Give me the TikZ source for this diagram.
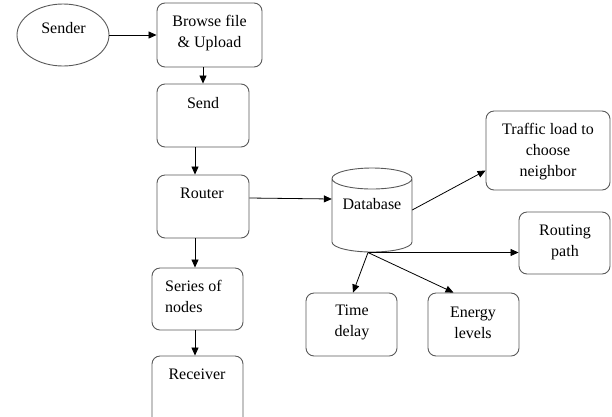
\documentclass[tikz,border=0pt]{standalone}
\usepackage{fontspec}
\setmainfont{Liberation Serif}
\usetikzlibrary{arrows.meta,shapes.geometric}
\begin{document}
\begin{tikzpicture}[x=1pt,y=-1pt,
  box/.style={draw=black!65, line width=0.9pt, rounded corners=8pt, inner sep=0pt},
  txt/.style={font=\fontsize{16}{21}\selectfont, inner sep=0pt, align=center},
  arr/.style={-{Triangle[length=8pt,width=7pt]}, line width=0.8pt, black}]
\useasboundingbox (0,0) rectangle (612,416);
\begin{scope}
\clip (0,0) rectangle (612,416);
% Sender
\node[draw=black!65, line width=0.9pt, ellipse, minimum width=92, minimum height=62, inner sep=0pt] (sender) at (63,35) {};
\node[txt] (tsender) at (63.5,28) {Sender};
% boxes
\node[box, minimum width=105, minimum height=64] (browse) at (209.5,35) {};
\node[txt] (tbrowse) at (209.5,33.5) {Browse file\\\& Upload};
\node[box, minimum width=92, minimum height=63] (send) at (203,115.5) {};
\node[txt] (tsend) at (203,103) {Send};
\node[box, minimum width=92, minimum height=63] (router) at (203,206.5) {};
\node[txt] (trouter) at (202,193) {Router};
\node[box, minimum width=91, minimum height=62] (series) at (197.5,299) {};
\node[txt, align=left, anchor=west] (tseries) at (165,296.5) {Series of\\nodes};
\node[box, minimum width=91, minimum height=70] (receiver) at (197.5,391) {};
\node[txt] (treceiver) at (197,374) {Receiver};
% database cylinder
\node[minimum width=80, minimum height=84, inner sep=0pt] (db) at (372,210) {};
\draw[black!65, line width=0.9pt] (332,178.5) arc[start angle=180, end angle=-180, x radius=40, y radius=10.5]
  (332,178.5) -- (332,242) arc[start angle=180, end angle=0, x radius=40, y radius=10] -- (412,178.5);
\node[txt] (tdb) at (372,204) {Database};
\coordinate (dbb) at (368,252.5);
\node[box, minimum width=124, minimum height=79] (traffic) at (548,150.5) {};
\node[txt] (ttraffic) at (548,152) {Traffic load to\\choose\\neighbor};
\node[box, minimum width=91, minimum height=62] (routing) at (564.5,243) {};
\node[txt] (trouting) at (565,242.5) {Routing\\path};
\node[box, minimum width=91, minimum height=63] (time) at (351.5,324.5) {};
\node[txt] (ttime) at (352,322.5) {Time\\delay};
\node[box, minimum width=91, minimum height=63] (energy) at (473.5,324.5) {};
\node[txt] (tenergy) at (473,322.5) {Energy\\levels};
% arrows
\draw[arr] (sender.east) -- (browse.west);
\draw[arr] (send.north |- browse.south) -- (send.north);
\draw[arr] ([xshift=-8pt]send.south) -- ([xshift=-8pt]router.north);
\draw[arr] ([xshift=-8pt]router.south) -- ([xshift=-8pt]router.south |- series.north);
\draw[arr] ([xshift=-2.5pt]series.south) -- ([xshift=-2.5pt]receiver.north);
\draw[arr] ([yshift=8.5pt]router.east) -- ([yshift=11pt]db.west);
\draw[arr] (db.east) -- ([yshift=-20pt]traffic.west);
\draw[arr] (dbb) -- (routing.west |- dbb);
\draw[arr] (dbb) -- ([xshift=1.5pt]time.north);
\draw[arr] (dbb) -- ([xshift=-20pt]energy.north);
\end{scope}
\end{tikzpicture}
\end{document}
